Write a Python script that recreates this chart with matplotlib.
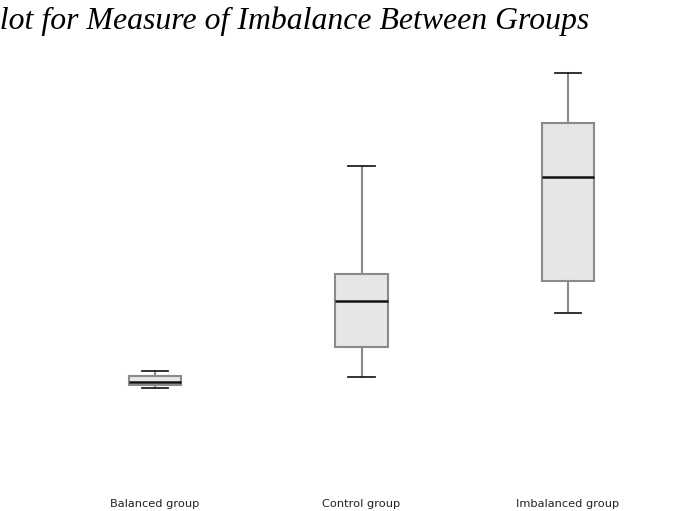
import matplotlib.pyplot as plt

groups = ["Balanced group", "Control group", "Imbalanced group"]
whislo = [1.23, 1.34, 1.98]
q1 = [1.26, 1.64, 2.30]
med = [1.29, 2.10, 3.34]
q3 = [1.35, 2.37, 3.88]
whishi = [1.40, 3.45, 4.38]

stats = []
for i, g in enumerate(groups):
    stats.append({"label": g, "whislo": whislo[i], "q1": q1[i], "med": med[i],
                  "q3": q3[i], "whishi": whishi[i], "fliers": []})

fig = plt.figure(figsize=(6.99, 5.11), dpi=100)
ax = fig.add_axes([0, 0, 1, 1])
pos = [1, 2, 3]
ax.bxp(stats, positions=pos, widths=0.252, capwidths=0.13, patch_artist=True,
       boxprops=dict(facecolor="#e6e6e6", edgecolor="#8a8a8a", linewidth=1.5),
       whiskerprops=dict(color="#8a8a8a", linewidth=1.5),
       capprops=dict(color="#222222", linewidth=1.3),
       medianprops=dict(color="#111111", linewidth=1.8))

ax.set_xlim(1 - 155 / 206.5, 1 - 155 / 206.5 + 699 / 206.5)
ax.set_ylim(0, 5.11)
ax.axis("off")

for p, g in zip(pos, groups):
    ax.text(p, 0.075, g, ha="center", va="center", fontsize=8.2,
            family="DejaVu Sans", color="#222222")

# title is cut off at the left edge, as in the original
fig.text(589 / 699, (511 - 29) / 511, "Box Plot for Measure of Imbalance Between Groups",
         ha="right", va="baseline", fontsize=22.9, family="Liberation Serif",
         style="italic")

fig.savefig("out.png", dpi=100)
